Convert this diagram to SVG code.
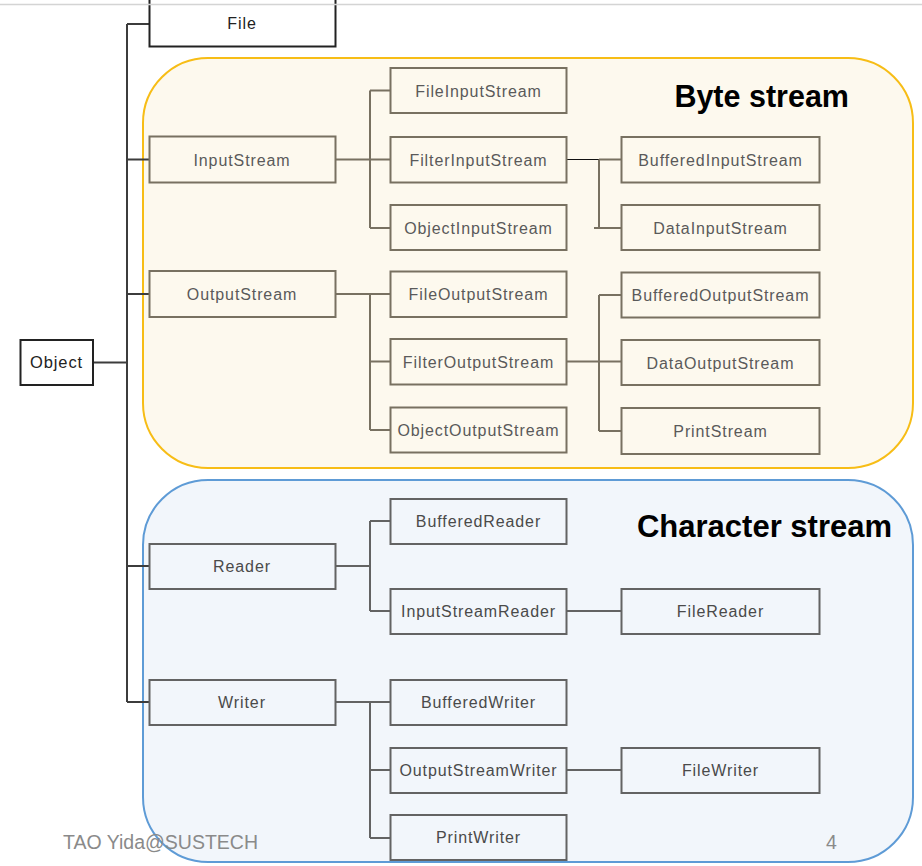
<svg xmlns="http://www.w3.org/2000/svg" width="922" height="866" viewBox="0 0 922 866">
<style>
.lbl{font-family:"Liberation Sans",Arial,sans-serif;font-size:16px;letter-spacing:0.9px;text-anchor:middle}
.bn rect{fill:none;stroke:#787161;stroke-width:2}
.bn text{fill:#5a5a5a}
.cn rect{fill:none;stroke:#636363;stroke-width:2}
.cn text{fill:#4a4a4a}
.top rect{fill:#fff;stroke:#222;stroke-width:2}
.top text{fill:#222}
.title{font-family:"Liberation Sans",Arial,sans-serif;font-weight:bold;font-size:30px;fill:#000;text-anchor:end}
.foot{font-family:"Liberation Sans",Arial,sans-serif;font-size:19.5px;fill:#8a8a8a}
.cb{fill:none;stroke:#787161;stroke-width:2}
.cc{fill:none;stroke:#636363;stroke-width:2}
.ct{fill:none;stroke:#3c3c3c;stroke-width:2}
</style>
<rect x="0" y="0" width="922" height="866" fill="#fff"/>

<g id="byte-stream-group">
<rect x="143" y="58" width="770" height="410" rx="65" ry="65" fill="#fdf9ee" stroke="#f7bd16" stroke-width="2"/>
<text class="title" x="849" y="107" style="font-size:30.5px">Byte stream</text>
</g>
<g id="character-stream-group">
<rect x="143" y="480" width="770" height="382" rx="65" ry="65" fill="#f2f6fb" stroke="#5e9bd6" stroke-width="2"/>
<text class="title" x="892" y="537" style="font-size:31px">Character stream</text>
</g>

<g id="connectors">
<path class="ct" d="M93,362.5 H127 M127,24 V702 M127,24 H149 M127,159.5 H149 M127,294 H149 M127,566 H149 M127,702 H149"/>
<path class="cb" d="M335,159.5 H370 M370,90.5 V228 M370,90.5 H390 M370,159.5 H390 M370,228 H390"/>
<path d="M566,159.5 H599" stroke="#111" stroke-width="1.2" fill="none"/>
<path class="cb" d="M599,159.5 V228 M599,159.5 H621 M594,228 H621"/>
<path class="cb" d="M335,294 H370 M370,294 V430 M370,294 H390 M370,361.5 H390 M370,430 H390"/>
<path class="cb" d="M566,361.5 H621 M599,295 V431 M599,295 H621 M599,431 H621"/>
<path class="cc" d="M335,566 H370 M370,521 V611 M370,521 H390 M370,611 H390 M566,611 H621"/>
<path class="cc" d="M335,702 H370 M370,702 V838 M370,702 H390 M370,770 H390 M370,838 H390 M566,770 H621"/>
</g>

<g id="n-file" class="top lbl"><rect x="149.5" y="-3" width="186" height="49.5"/><text x="242" y="29">File</text></g>
<g id="n-object" class="top lbl"><rect x="20.5" y="340" width="72.5" height="45"/><text x="56.5" y="368" style="font-size:16.5px">Object</text></g>

<g class="bn lbl">
<g id="n-inputstream"><rect x="149.5" y="136.5" width="186" height="46"/><text x="242" y="165.5">InputStream</text></g>
<g id="n-outputstream"><rect x="149.5" y="271" width="186" height="46"/><text x="242" y="300">OutputStream</text></g>
<g id="n-fileinputstream"><rect x="390.5" y="68" width="176" height="45"/><text x="478.5" y="96.5">FileInputStream</text></g>
<g id="n-filterinputstream"><rect x="390.5" y="137" width="176" height="45.5"/><text x="478.5" y="165.5">FilterInputStream</text></g>
<g id="n-objectinputstream"><rect x="390.5" y="205" width="176" height="45"/><text x="478.5" y="233.5">ObjectInputStream</text></g>
<g id="n-fileoutputstream"><rect x="390.5" y="271.5" width="176" height="45.5"/><text x="478.5" y="300">FileOutputStream</text></g>
<g id="n-filteroutputstream"><rect x="390.5" y="339" width="176" height="45.5"/><text x="478.5" y="367.5">FilterOutputStream</text></g>
<g id="n-objectoutputstream"><rect x="390.5" y="407.5" width="176" height="45"/><text x="478.5" y="436">ObjectOutputStream</text></g>
<g id="n-bufferedinputstream"><rect x="621.5" y="137" width="198" height="45.5"/><text x="720.5" y="165.5">BufferedInputStream</text></g>
<g id="n-datainputstream"><rect x="621.5" y="205" width="198" height="45"/><text x="720.5" y="233.5">DataInputStream</text></g>
<g id="n-bufferedoutputstream"><rect x="621.5" y="272.5" width="198" height="45"/><text x="720.5" y="301">BufferedOutputStream</text></g>
<g id="n-dataoutputstream"><rect x="621.5" y="340" width="198" height="45"/><text x="720.5" y="368.5">DataOutputStream</text></g>
<g id="n-printstream"><rect x="621.5" y="408" width="198" height="46"/><text x="720.5" y="437">PrintStream</text></g>
</g>

<g class="cn lbl">
<g id="n-reader"><rect x="149.5" y="544" width="186" height="45"/><text x="242" y="572">Reader</text></g>
<g id="n-writer"><rect x="149.5" y="680" width="186" height="45"/><text x="242" y="708">Writer</text></g>
<g id="n-bufferedreader"><rect x="390.5" y="499" width="176" height="45"/><text x="478.5" y="527">BufferedReader</text></g>
<g id="n-inputstreamreader"><rect x="390.5" y="589" width="176" height="45"/><text x="478.5" y="617">InputStreamReader</text></g>
<g id="n-filereader"><rect x="621.5" y="589" width="198" height="45"/><text x="720.5" y="617">FileReader</text></g>
<g id="n-bufferedwriter"><rect x="390.5" y="680" width="176" height="45"/><text x="478.5" y="708">BufferedWriter</text></g>
<g id="n-outputstreamwriter"><rect x="390.5" y="748" width="176" height="45"/><text x="478.5" y="776">OutputStreamWriter</text></g>
<g id="n-filewriter"><rect x="621.5" y="748" width="198" height="45"/><text x="720.5" y="776">FileWriter</text></g>
<g id="n-printwriter"><rect x="390.5" y="815" width="176" height="45"/><text x="478.5" y="843">PrintWriter</text></g>
</g>

<text class="foot" x="63" y="849">TAO Yida@SUSTECH</text>
<text class="foot" x="826" y="849">4</text>
<line x1="0" y1="4.5" x2="922" y2="4.5" stroke="#d4d4d4" stroke-width="1.5"/>
</svg>
